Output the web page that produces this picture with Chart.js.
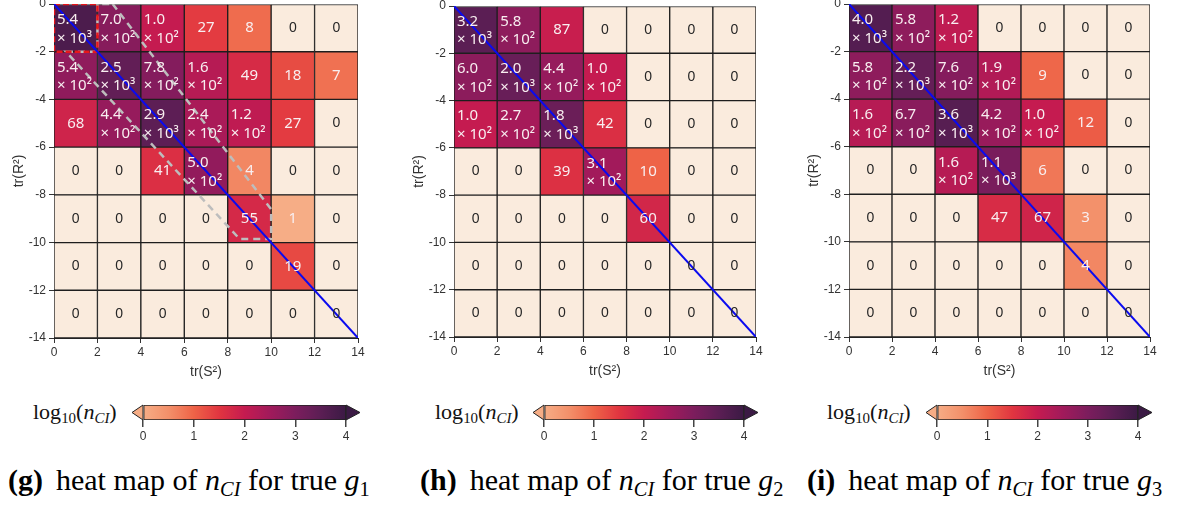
<!DOCTYPE html>
<html>
<head>
<meta charset="utf-8">
<script src="https://cdn.jsdelivr.net/npm/chart.js@4"></script>
<style>
  body { margin: 0; background: #fff; width: 1180px; height: 506px; position: relative; overflow: hidden; }
  canvas { position: absolute; }
  .cblabel { position: absolute; font: 22px 'Liberation Serif', serif; line-height: 22px; white-space: nowrap; color: #111; }
  .caption { position: absolute; font: 30px 'Liberation Serif', serif; line-height: 30px; white-space: nowrap; color: #000; }
  sub { font-size: 0.68em; vertical-align: -0.28em; line-height: 0; }
  .tag { font-weight: bold; margin-right: 13px; }
</style>
</head>
<body>
<script>
// grid edges (axis ticks) for tr(S²) and tr(R²)
const xEdges = [0, 2, 4, 6, 8, 10, 12, 14];
const yEdges = [0, -2, -4, -6, -8, -10, -12, -14];
const cbTicks = [0, 1, 2, 3, 4];

// n_CI counts, rows from tr(R²)=0 downward, columns tr(S²)=0..14
const countsG1 = [
  [5400, 700, 100, 27, 8, 0, 0],
  [540, 2500, 780, 160, 49, 18, 7],
  [68, 440, 2900, 240, 120, 27, 0],
  [0, 0, 41, 500, 4, 0, 0],
  [0, 0, 0, 0, 55, 1, 0],
  [0, 0, 0, 0, 0, 19, 0],
  [0, 0, 0, 0, 0, 0, 0]
];
const countsG2 = [
  [3200, 580, 87, 0, 0, 0, 0],
  [600, 2000, 440, 100, 0, 0, 0],
  [100, 270, 1800, 42, 0, 0, 0],
  [0, 0, 39, 310, 10, 0, 0],
  [0, 0, 0, 0, 60, 0, 0],
  [0, 0, 0, 0, 0, 0, 0],
  [0, 0, 0, 0, 0, 0, 0]
];
const countsG3 = [
  [4000, 580, 120, 0, 0, 0, 0],
  [580, 2200, 760, 190, 9, 0, 0],
  [160, 670, 3600, 420, 100, 12, 0],
  [0, 0, 160, 1100, 6, 0, 0],
  [0, 0, 0, 47, 67, 3, 0],
  [0, 0, 0, 0, 0, 4, 0],
  [0, 0, 0, 0, 0, 0, 0]
];

// diagonal tr(S²) = -tr(R²)
const diagX = [0, 14];
const diagY = [0, -14];
// highlighted cell and the band around the diagonal (g1 only)
const boxX = [0, 2, 2, 0, 0];
const boxY = [0, 0, -2, -2, 0];
const bandX = [2.7, 10, 10, 8.55, 0.55, 2, 2, 2.7];
const bandY = [0, -8.6, -9.85, -9.85, -2, -2, 0, 0];

const captionTags = ['(g)', '(h)', '(i)'];
const captionIdx = ['1', '2', '3'];

// rocket_r style colour ramp over log10(n) in [0, 4]
const ramp = [
  [0.0, '#f6ad86'], [0.5, '#f3906a'], [1.0, '#ee6347'], [1.5, '#e13540'],
  [2.0, '#c51b50'], [2.5, '#a11a5b'], [3.0, '#7c1d5d'], [3.5, '#5b1e54'], [4.0, '#3b1a44']
];
const zeroColor = '#faebdd';

function hex(c) {
  return [1, 3, 5].map(i => parseInt(c.slice(i, i + 2), 16));
}
function rampColor(v) {
  v = Math.max(0, Math.min(4, v));
  for (let i = 1; i < ramp.length; i++) {
    if (v <= ramp[i][0]) {
      const [v0, c0] = ramp[i - 1], [v1, c1] = ramp[i];
      const t = (v - v0) / (v1 - v0);
      const a = hex(c0), b = hex(c1);
      return 'rgb(' + a.map((x, k) => Math.round(x + (b[k] - x) * t)).join(',') + ')';
    }
  }
  return ramp[ramp.length - 1][1];
}
function cellColor(n) {
  return n > 0 ? rampColor(Math.log10(n)) : zeroColor;
}

const supDigits = { 2: '\u00b2', 3: '\u00b3', 4: '\u2074' };

const cellText = {
  id: 'cellText',
  afterDatasetsDraw(chart) {
    const meta = chart.getDatasetMeta(0);
    const ctx = chart.ctx;
    ctx.save();
    ctx.textBaseline = 'middle';
    meta.data.forEach(bar => {
      const n = bar.$context.raw.n;
      const { x, y, base, width } = bar.getProps(['x', 'y', 'base', 'width'], true);
      const top = Math.min(y, base), h = Math.abs(base - y);
      const left = x - width / 2;
      if (n >= 100) {
        const e = Math.floor(Math.log10(n));
        const m = (n / Math.pow(10, e)).toFixed(1);
        ctx.fillStyle = '#f8eef0';
        ctx.font = '15px "Noto Sans"';
        ctx.textAlign = 'left';
        ctx.fillText(m, left + 3, top + h * 0.33);
        ctx.fillText('\u00d7 10' + supDigits[e], left + 3, top + h * 0.72);
      } else if (n > 0) {
        ctx.fillStyle = '#f8eef0';
        ctx.font = '15px "Noto Sans"';
        ctx.textAlign = 'center';
        ctx.fillText(String(n), x, top + h / 2);
      } else {
        ctx.fillStyle = '#262626';
        ctx.font = '14px "Liberation Sans"';
        ctx.textAlign = 'center';
        ctx.fillText('0', x, top + h / 2);
      }
    });
    ctx.restore();
  }
};

function linePoints(xs, ys) {
  return xs.map((v, i) => ({ x: v, y: ys[i] }));
}

const tickFont = { family: 'Liberation Sans', size: 12 };
const titleFont = { family: 'Liberation Sans', size: 14 };

function heatmap(p) {
  const canvas = document.createElement('canvas');
  const plotW = p.right - p.left, plotH = p.bottom - p.top;
  const W = 54 + plotW + 14, H = 20 + plotH + 46;
  canvas.width = W; canvas.height = H;
  canvas.style.left = (p.left - 54) + 'px';
  canvas.style.top = (p.top - 20) + 'px';
  document.body.appendChild(canvas);

  const cells = [];
  p.counts.forEach((row, r) => row.forEach((n, c) => {
    cells.push({ x: (xEdges[c] + xEdges[c + 1]) / 2, y: [yEdges[r], yEdges[r + 1]], n });
  }));

  const datasets = [{
    type: 'bar',
    data: cells,
    backgroundColor: cells.map(d => cellColor(d.n)),
    borderColor: '#1e1e1e',
    borderWidth: 1,
    borderSkipped: false,
    barPercentage: 1,
    categoryPercentage: 1,
    order: 3
  }];
  if (p.band) {
    datasets.push({
      type: 'line', data: linePoints(bandX, bandY), borderColor: '#bdbdbd',
      borderWidth: 2.5, borderDash: [7, 5], pointRadius: 0, tension: 0, fill: false, order: 2
    });
    datasets.push({
      type: 'line', data: linePoints(boxX, boxY), borderColor: '#e8161b',
      borderWidth: 2.5, borderDash: [6, 3], pointRadius: 0, tension: 0, fill: false, order: 1
    });
  }
  datasets.push({
    type: 'line', data: linePoints(diagX, diagY), borderColor: '#0a0af0',
    borderWidth: 2, pointRadius: 0, tension: 0, fill: false, order: 0
  });

  new Chart(canvas, {
    data: { datasets },
    options: {
      responsive: false,
      animation: false,
      layout: { padding: { top: 20, right: 14, left: 0, bottom: 0 } },
      plugins: { legend: { display: false }, tooltip: { enabled: false } },
      scales: {
        x: {
          type: 'linear', min: 0, max: 14, offset: false,
          afterBuildTicks: s => { s.ticks = xEdges.map(v => ({ value: v })); },
          afterFit: s => { s.height = 46; },
          ticks: { font: tickFont, color: '#333', padding: 2, maxRotation: 0 },
          grid: { drawOnChartArea: false, offset: false, tickLength: 5, color: '#333' },
          border: { color: '#222' },
          title: { display: true, text: 'tr(S\u00b2)', font: titleFont, color: '#333', padding: { top: 0, bottom: 3 } }
        },
        y: {
          type: 'linear', min: -14, max: 0,
          afterBuildTicks: s => { s.ticks = yEdges.map(v => ({ value: v })); },
          afterFit: s => { s.width = 54; },
          ticks: { font: tickFont, color: '#333', padding: 3 },
          grid: { drawOnChartArea: false, tickLength: 5, color: '#333' },
          border: { color: '#222' },
          title: { display: true, text: 'tr(R\u00b2)', font: titleFont, color: '#333', padding: { top: 11, bottom: 0 } }
        }
      }
    },
    plugins: [cellText]
  });
}

const cbArrows = {
  id: 'cbArrows',
  afterDatasetsDraw(chart) {
    const { ctx, chartArea: a, scales: { x } } = chart;
    const x0 = x.getPixelForValue(cbTicks[0]);
    const x1 = x.getPixelForValue(cbTicks[cbTicks.length - 1]);
    const mid = (a.top + a.bottom) / 2;
    ctx.save();
    ctx.strokeStyle = '#222';
    ctx.lineWidth = 1;
    ctx.beginPath();
    ctx.moveTo(x0, a.top); ctx.lineTo(x0 - 11, mid); ctx.lineTo(x0, a.bottom); ctx.closePath();
    ctx.fillStyle = rampColor(0);
    ctx.fill(); ctx.stroke();
    ctx.beginPath();
    ctx.moveTo(x1, a.top); ctx.lineTo(x1 + 14, mid); ctx.lineTo(x1, a.bottom); ctx.closePath();
    ctx.fillStyle = rampColor(4);
    ctx.fill(); ctx.stroke();
    ctx.restore();
  }
};

function colorbar(p) {
  const canvas = document.createElement('canvas');
  const W = (p.cbRight - p.cbLeft) + 40, H = 60;
  canvas.width = W; canvas.height = H;
  canvas.style.left = (p.cbLeft - 20) + 'px';
  canvas.style.top = (p.cbTop - 20) + 'px';
  document.body.appendChild(canvas);

  new Chart(canvas, {
    type: 'bar',
    data: {
      labels: [''],
      datasets: [{
        data: [[cbTicks[0], cbTicks[cbTicks.length - 1]]],
        backgroundColor: c => {
          const { chart } = c;
          if (!chart.chartArea) return rampColor(2);
          const x = chart.scales.x;
          const g = chart.ctx.createLinearGradient(x.getPixelForValue(0), 0, x.getPixelForValue(4), 0);
          for (let v = 0; v <= 4.001; v += 0.25) g.addColorStop(v / 4, rampColor(v));
          return g;
        },
        borderColor: '#222',
        borderWidth: 1,
        borderSkipped: false,
        barPercentage: 1,
        categoryPercentage: 1
      }]
    },
    options: {
      indexAxis: 'y',
      responsive: false,
      animation: false,
      layout: { padding: { top: 20, left: 20, right: 20, bottom: 0 } },
      plugins: { legend: { display: false }, tooltip: { enabled: false } },
      scales: {
        y: { display: false },
        x: {
          min: 0, max: 4,
          afterBuildTicks: s => { s.ticks = cbTicks.map(v => ({ value: v })); },
          afterFit: s => { s.height = 25; },
          ticks: { font: tickFont, color: '#333', padding: 2 },
          grid: { drawOnChartArea: false, tickLength: 7, color: '#444', lineWidth: 1.5 },
          border: { display: false }
        }
      }
    },
    plugins: [cbArrows]
  });

  const lab = document.createElement('div');
  lab.className = 'cblabel';
  lab.style.left = p.labelX + 'px';
  lab.style.top = (p.cbTop - 4) + 'px';
  lab.innerHTML = 'log<sub>10</sub>(<i>n</i><sub><i>CI</i></sub>)';
  document.body.appendChild(lab);
}

function caption(p, i) {
  const d = document.createElement('div');
  d.className = 'caption';
  d.style.left = p.capX + 'px';
  d.style.top = '465px';
  d.innerHTML = '<span class="tag">' + captionTags[i] + '</span>heat map of <i>n</i><sub><i>CI</i></sub> for true <i>g</i><sub>' + captionIdx[i] + '</sub>';
  document.body.appendChild(d);
}

const panels = [
  { counts: countsG1, band: true, left: 54, right: 358, top: 4, bottom: 338, cbLeft: 143, cbRight: 346, cbTop: 405, labelX: 33, capX: 8 },
  { counts: countsG2, band: false, left: 454, right: 756, top: 6, bottom: 337, cbLeft: 544, cbRight: 744, cbTop: 405, labelX: 435, capX: 420 },
  { counts: countsG3, band: false, left: 849, right: 1150, top: 4, bottom: 337, cbLeft: 937, cbRight: 1138, cbTop: 405, labelX: 827, capX: 807 }
];

panels.forEach((p, i) => {
  heatmap(p);
  colorbar(p);
  caption(p, i);
});
</script>
</body>
</html>
